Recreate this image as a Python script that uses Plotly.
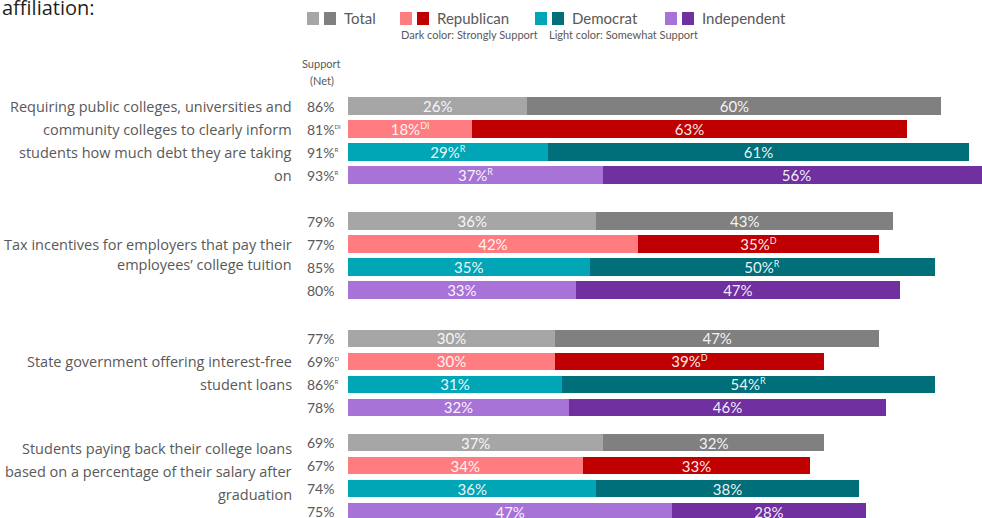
import plotly.graph_objects as go

# ---- data -------------------------------------------------------------
measures = [
    ["Requiring public colleges, universities and",
     "community colleges to clearly inform",
     "students how much debt they are taking",
     "on"],
    ["Tax incentives for employers that pay their",
     "employees\u2019 college tuition"],
    ["State government offering interest-free",
     "student loans"],
    ["Students paying back their college loans",
     "based on a percentage of their salary after",
     "graduation"],
]
parties = ["Total", "Republican", "Democrat", "Independent"]

# somewhat support (light) and strongly support (dark), by measure x party
somewhat = [[26, 18, 29, 37], [36, 42, 35, 33], [30, 30, 31, 32], [37, 34, 36, 47]]
strongly = [[60, 63, 61, 56], [43, 35, 50, 47], [47, 39, 54, 46], [32, 33, 38, 28]]
net = [[86, 81, 91, 93], [79, 77, 85, 80], [77, 69, 86, 78], [69, 67, 74, 75]]

# significance letters
somewhat_sig = [["", "DI", "R", "R"], ["", "", "", ""], ["", "", "", ""], ["", "", "", ""]]
strongly_sig = [["", "", "", ""], ["", "D", "R", ""], ["", "D", "R", ""], ["", "", "", ""]]
net_sig = [["", "DI", "R", "R"], ["", "", "", ""], ["", "D", "R", ""], ["", "", "", ""]]

light_colors = ["#a6a6a6", "#ff7c80", "#00a6b6", "#a873d6"]
dark_colors = ["#808080", "#c00000", "#006f7a", "#7030a0"]

# ---- layout helpers ---------------------------------------------------
W, H = 982, 518
LEFT = 348
ROW_PX = 23
TOP_ROW_PX = 106
group_offset = [0, 5.0, 10.1, 14.65]     # vertical start of each block, in row units
label_rows = [[0, 1, 2, 3], [1.04, 1.87], [1, 2], [0.26, 1.26, 2.26]]

FONT = "Lato, 'Open Sans', sans-serif"
LABEL_FONT = "'Open Sans', sans-serif"
GRAY_TXT = "#595959"


def px_x(p):
    return (p - LEFT) / (W - LEFT)


def px_y(p):
    return (H - p) / H


def sup(s, size=None):
    if not s:
        return ""
    if size:
        return f"<sup><span style='font-size:{size}px'>{s}</span></sup>"
    return f"<sup>{s}</sup>"


fig = go.Figure()

for p, party in enumerate(parties):
    ys = [group_offset[g] + p for g in range(len(measures))]
    lv = [somewhat[g][p] for g in range(len(measures))]
    dv = [strongly[g][p] for g in range(len(measures))]
    fig.add_trace(go.Bar(
        y=ys, x=lv, orientation="h", width=0.74,
        marker=dict(color=light_colors[p], line=dict(width=0)),
        text=[f"{v}%" + sup(somewhat_sig[g][p], 9) for g, v in enumerate(lv)],
        textposition="inside", insidetextanchor="middle", constraintext="none",
        textfont=dict(family=FONT, size=15, color="rgba(255,255,255,0.93)"),
        name=party, showlegend=False, hoverinfo="skip",
    ))
    fig.add_trace(go.Bar(
        y=ys, x=dv, orientation="h", width=0.74,
        marker=dict(color=dark_colors[p], line=dict(width=0)),
        text=[f"{v}%" + sup(strongly_sig[g][p], 9) for g, v in enumerate(dv)],
        textposition="inside", insidetextanchor="middle", constraintext="none",
        textfont=dict(family=FONT, size=15, color="rgba(255,255,255,0.93)"),
        name=party, showlegend=False, hoverinfo="skip",
    ))

annotations = []
shapes = []

# measure labels on the left
for g, lines in enumerate(measures):
    for line, r in zip(lines, label_rows[g]):
        annotations.append(dict(
            x=px_x(294), xref="paper", y=group_offset[g] + r, yref="y",
            text=line, showarrow=False, xanchor="right", yanchor="middle",
            font=dict(family=LABEL_FONT, size=14.5, color=GRAY_TXT),
        ))

# net support column
for g in range(len(measures)):
    for p in range(len(parties)):
        annotations.append(dict(
            x=px_x(305), xref="paper", y=group_offset[g] + p, yref="y",
            text=f"{net[g][p]}%" + sup(net_sig[g][p], 6), showarrow=False,
            xanchor="left", yanchor="middle",
            font=dict(family=FONT, size=14, color=GRAY_TXT),
        ))

annotations.append(dict(x=px_x(321), xref="paper", y=px_y(64), yref="paper",
                        text="Support", showarrow=False, xanchor="center", yanchor="middle",
                        font=dict(family=FONT, size=11, color=GRAY_TXT)))
annotations.append(dict(x=px_x(322), xref="paper", y=px_y(80), yref="paper",
                        text="(Net)", showarrow=False, xanchor="center", yanchor="middle",
                        font=dict(family=FONT, size=11, color=GRAY_TXT)))

# title fragment at top-left
annotations.append(dict(x=px_x(0), xref="paper", y=px_y(8), yref="paper",
                        text="affiliation:", showarrow=False, xanchor="left", yanchor="middle",
                        font=dict(family=LABEL_FONT, size=20, color="#1f1f1f")))

# legend: paired colour squares with party names
legend_x = [307, 400, 535, 665]
for p, party in enumerate(parties):
    x0 = legend_x[p]
    for k, col in enumerate([light_colors[p], dark_colors[p]]):
        shapes.append(dict(type="rect", xref="paper", yref="paper",
                           x0=px_x(x0 + k * 17), x1=px_x(x0 + k * 17 + 12),
                           y0=px_y(25), y1=px_y(12),
                           fillcolor=col, line=dict(width=0), layer="above"))
    annotations.append(dict(x=px_x(x0 + 35), xref="paper", y=px_y(18), yref="paper",
                            text=party, showarrow=False, xanchor="left", yanchor="middle",
                            font=dict(family=FONT, size=15, color=GRAY_TXT)))
annotations.append(dict(x=px_x(549), xref="paper", y=px_y(35), yref="paper",
                        text="Dark color: Strongly Support&nbsp;&nbsp;&nbsp;&nbsp;Light color: Somewhat Support",
                        showarrow=False, xanchor="center", yanchor="middle",
                        font=dict(family=FONT, size=11, color=GRAY_TXT)))

fig.update_layout(
    width=W, height=H,
    margin=dict(l=LEFT, r=0, t=0, b=0),
    barmode="stack",
    plot_bgcolor="white", paper_bgcolor="white",
    xaxis=dict(range=[0, (W - LEFT) / 6.9], visible=False, fixedrange=True),
    yaxis=dict(range=[(H - TOP_ROW_PX) / ROW_PX, -TOP_ROW_PX / ROW_PX],
               visible=False, fixedrange=True),
    annotations=annotations, shapes=shapes,
    showlegend=False,
)

fig.write_html("out.html")
